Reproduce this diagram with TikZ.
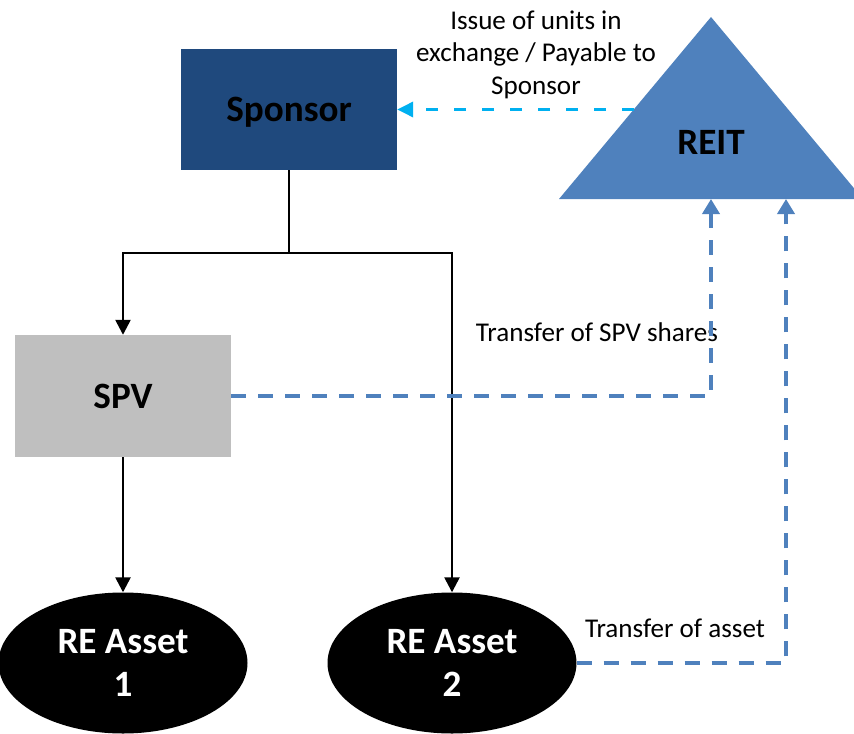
\documentclass[tikz,border=0pt]{standalone}
\usepackage{fontspec}
\setmainfont{Carlito}
\usetikzlibrary{arrows.meta,shapes.geometric}
\definecolor{sponsorblue}{HTML}{1F497D}
\definecolor{reitblue}{HTML}{4F81BD}
\definecolor{spvgray}{HTML}{BFBFBF}
\definecolor{arrowcyan}{HTML}{00B0F0}
\tikzset{
  bigtext/.style={font=\fontsize{37.3}{43}\selectfont\bfseries, align=center},
  box/.style={bigtext, inner sep=0pt, minimum width=216bp, minimum height=121bp, text depth=0pt},
  asset/.style={bigtext, ellipse, fill=black, text=white, inner sep=0pt, minimum width=249bp, minimum height=141bp},
  lbl/.style={font=\fontsize{27.2}{32.5}\selectfont, align=center, inner sep=0pt},
  conn/.style={draw=black, line width=2.5bp, -{Triangle[width=15bp,length=15bp]}},
  bluedash/.style={draw=reitblue, line width=3.7bp, dash pattern=on 15bp off 12bp, -{Triangle[width=17bp,length=15bp]}},
  cyandash/.style={draw=arrowcyan, line width=3.4bp, dash pattern=on 12bp off 16bp, -{Triangle[width=15bp,length=16bp]}}
}
\begin{document}
\begin{tikzpicture}[x=1bp,y=-1bp]
\clip (0,0) rectangle (854,734);
\useasboundingbox (0,0) rectangle (854,734);
% REIT triangle
\fill[reitblue] (711,17) -- (559,199) -- (863,199) -- cycle;
\node[bigtext, inner sep=0pt, text depth=0pt] (reit) at (711,142) {REIT};
\coordinate (reitA) at (711,199);
\coordinate (reitB) at (786,199);
\coordinate (reitedge) at (634,109.5);
% nodes
\node[box, fill=sponsorblue] (sponsor) at (289,109.5) {Sponsor};
\node[box, fill=spvgray, minimum height=122bp] (spv) at (123,396) {SPV};
\node[asset] (asset1) at (123,663) {RE Asset\\1};
\node[asset] (asset2) at (452,663) {RE Asset\\2};
% labels
\node[lbl] (issue) at (536,54.5) {Issue of units in\\exchange / Payable to\\Sponsor};
\node[lbl, anchor=base] (tspv) at (597,341) {Transfer of SPV shares};
\node[lbl, anchor=base] (tasset) at (675,637) {Transfer of asset};
% black connectors
\draw[draw=black, line width=2.5bp] (sponsor.south) -- ++(0,83) coordinate (split);
\draw[conn] (split) -| (spv.north);
\draw[conn] (split) -| (asset2.north);
\draw[conn] (spv.south) -- (asset1.north);
% dashed connectors
\draw[bluedash] (spv.east) -| (reitA);
\draw[bluedash] (asset2.east) -| (reitB);
\draw[cyandash] (reitedge) -- (sponsor.east);
\end{tikzpicture}
\end{document}
